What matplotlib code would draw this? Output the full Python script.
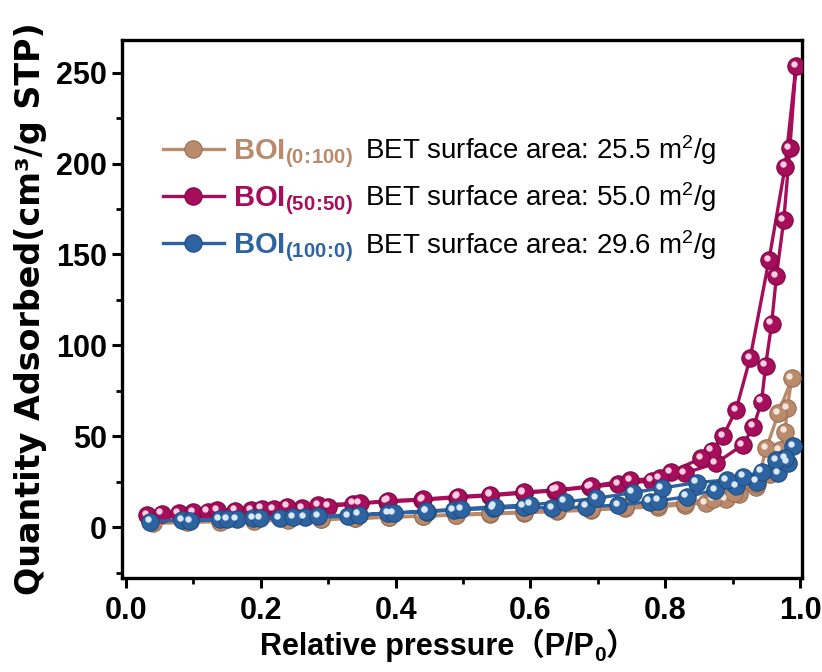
import matplotlib
matplotlib.use('Agg')
import matplotlib.pyplot as plt
import matplotlib.transforms as mtransforms
import numpy as np

# ---------------- data ----------------
# BOI(0:100)
brown_ads_p = [0.040, 0.090, 0.140, 0.190, 0.240, 0.290, 0.340, 0.390, 0.440, 0.490, 0.540, 0.590,
               0.640, 0.690, 0.740, 0.790, 0.830, 0.860, 0.890, 0.910, 0.935, 0.955, 0.970, 0.978, 0.981, 0.988]
brown_ads_v = [2.0, 2.6, 3.0, 3.4, 3.8, 4.2, 4.8, 5.4, 6.0, 6.6, 7.2, 7.9,
               8.6, 9.4, 10.3, 11.3, 12.3, 13.3, 15.5, 18.0, 22.0, 29.0, 42.4, 52.5, 65.4, 81.9]
brown_des_p = [0.968, 0.950, 0.936, 0.902, 0.871, 0.830, 0.790, 0.740, 0.690, 0.640, 0.590, 0.540,
               0.490, 0.440, 0.390, 0.340, 0.290]
brown_des_v = [62.6, 43.3, 23.5, 18.7, 15.5, 13.5, 12.3, 11.0, 10.0, 9.2, 8.4, 7.6,
               6.9, 6.2, 5.6, 5.0, 4.5]

# BOI(50:50)
mag_ads_p = [0.031, 0.053, 0.078, 0.100, 0.121, 0.162, 0.186, 0.219, 0.261, 0.300, 0.337, 0.387,
             0.439, 0.491, 0.540, 0.590, 0.636, 0.688, 0.730, 0.780, 0.829, 0.875, 0.915, 0.931,
             0.943, 0.949, 0.958, 0.965, 0.976, 0.985, 0.994]
mag_ads_v = [6.6, 7.3, 7.5, 8.2, 8.5, 9.0, 9.4, 9.8, 10.3, 11.2, 12.8, 13.9,
             14.9, 16.2, 17.3, 18.7, 20.0, 22.0, 23.6, 25.5, 29.7, 35.1, 45.2, 55.2,
             69.0, 88.8, 112.0, 138.0, 169.0, 208.6, 253.5]
mag_des_p = [0.978, 0.954, 0.926, 0.905, 0.886, 0.869, 0.853, 0.808, 0.792, 0.748, 0.690, 0.640,
             0.590, 0.540, 0.493, 0.441, 0.389, 0.347, 0.285, 0.239, 0.201, 0.135]
mag_des_v = [198.4, 147.0, 92.9, 64.4, 50.1, 42.0, 37.8, 30.2, 26.8, 25.9, 22.6, 20.5,
             19.3, 17.8, 16.8, 15.4, 14.5, 13.2, 12.1, 11.2, 10.2, 9.3]

# BOI(100:0)
blue_ads_p = [0.036, 0.083, 0.139, 0.164, 0.189, 0.228, 0.265, 0.330, 0.389, 0.446, 0.486, 0.545,
              0.590, 0.632, 0.683, 0.730, 0.777, 0.790, 0.832, 0.874, 0.905, 0.936, 0.968, 0.982, 0.990]
blue_ads_v = [2.9, 3.9, 4.2, 4.2, 4.8, 4.8, 5.3, 6.0, 7.7, 8.4, 9.4, 10.3,
              11.2, 10.3, 11.2, 12.1, 13.9, 14.5, 16.7, 20.4, 22.5, 25.0, 29.7, 35.5, 44.5]
blue_des_p = [0.978, 0.965, 0.943, 0.916, 0.891, 0.847, 0.795, 0.752, 0.698, 0.651, 0.600, 0.547,
              0.497, 0.445, 0.397, 0.345, 0.285, 0.248, 0.199, 0.150, 0.095]
blue_des_v = [38.0, 36.9, 30.5, 27.7, 25.9, 24.5, 21.5, 19.0, 15.8, 13.9, 12.3, 11.2,
              10.0, 8.8, 7.8, 6.8, 6.0, 5.3, 5.0, 4.3, 3.3]

labels = [r'$\mathbf{BOI}_{\mathbf{(0\!:\!100)}}$', r'$\mathbf{BOI}_{\mathbf{(50\!:\!50)}}$',
          r'$\mathbf{BOI}_{\mathbf{(100\!:\!0)}}$']
bet_texts = [r'BET surface area: 25.5 m$^{2}$/g', r'BET surface area: 55.0 m$^{2}$/g',
             r'BET surface area: 29.6 m$^{2}$/g']
xticks = [0.0, 0.2, 0.4, 0.6, 0.8, 1.0]
yticks = [0, 50, 100, 150, 200, 250]
xlabel_parts = ['Relative pressure\uff08P/P', '0', '\uff09']
ylabel_text = 'Quantity Adsorbed(cm\u00b3/g STP)'

# ---------------- style ----------------
colors = ['#B98A6B', '#A60D5B', '#2D63A0']
edges = ['#9A6E52', '#7E0744', '#1F4C80']
lights = ['#F3E6DC', '#F7CFE1', '#D8E8F7']

plt.rcParams['font.family'] = ['Liberation Sans', 'DejaVu Sans']
plt.rcParams['mathtext.fontset'] = 'custom'
plt.rcParams['mathtext.rm'] = 'Liberation Sans'
plt.rcParams['mathtext.bf'] = 'Liberation Sans:bold'
plt.rcParams['mathtext.it'] = 'Liberation Sans:italic'

fig = plt.figure(figsize=(8.22, 6.72), dpi=100)
ax = fig.add_axes([122 / 822, 1 - 578 / 672, (802 - 122) / 822, (578 - 40) / 672])

offset = mtransforms.ScaledTranslation(-2.4 / 100, 2.4 / 100, fig.dpi_scale_trans)

series = [
    (brown_ads_p + brown_des_p, brown_ads_v + brown_des_v),
    (mag_ads_p + mag_des_p, mag_ads_v + mag_des_v),
    (blue_ads_p + blue_des_p, blue_ads_v + blue_des_v),
]

handles = []
for i, (p, v) in enumerate(series):
    base, = ax.plot(p, v, '-o', color=colors[i], lw=2.4, ms=12.5, mfc=colors[i],
                    mec=edges[i], mew=0.8, zorder=3 + i)
    ax.plot(p, v, 'o', ls='none', color=lights[i], ms=4.6, mew=0,
            transform=ax.transData + offset, zorder=3 + i)
    handles.append(base)

ax.set_xlim(-0.006, 1.003)
ax.set_ylim(-28, 268)
ax.set_xticks(xticks)
ax.set_yticks(yticks)
ax.set_xticklabels([f'{t:.1f}' for t in xticks])
ax.set_yticklabels([str(t) for t in yticks])
ax.set_xticks(np.arange(0.1, 1.0, 0.2), minor=True)
ax.set_yticks(np.arange(-25, 270, 50), minor=True)

for sp in ax.spines.values():
    sp.set_linewidth(2.4)
ax.tick_params(which='major', direction='out', length=7, width=2.2)
ax.tick_params(which='minor', direction='out', length=4, width=2.0)
for lab in ax.get_xticklabels() + ax.get_yticklabels():
    lab.set_fontfamily('Liberation Sans')
    lab.set_fontweight('bold')
    lab.set_fontsize(22)
ax.tick_params(axis='x', pad=6)
ax.tick_params(axis='y', pad=4)

ax.set_ylabel(ylabel_text, fontsize=24, fontweight='bold', family=['DejaVu Sans'], labelpad=6)

leg = ax.legend(handles, labels, loc='upper left', bbox_to_anchor=(0.06, 0.82), frameon=False,
                fontsize=21, handlelength=2.1, handletextpad=0.3, labelspacing=0.5,
                borderpad=0, borderaxespad=0)
for t, c in zip(leg.get_texts(), colors):
    t.set_color(c)

fig.canvas.draw()
renderer = fig.canvas.get_renderer()
inv = ax.transAxes.inverted()
for t, s in zip(leg.get_texts(), bet_texts):
    bb = t.get_window_extent(renderer)
    cap = 0.716 * 21 * 100 / 72
    xa, ya = inv.transform((0, bb.y1 - cap - 1))
    ax.text(0.357, ya, s, transform=ax.transAxes, fontsize=20, va='baseline', ha='left',
            color='black')

# x label built from pieces (full-width brackets + subscript 0)
xfam = ['Liberation Sans', 'Noto Sans CJK SC', 'DejaVu Sans']
base_y_px = 672 - 655
pieces = []
sizes = [22, 15, 22]
dys = [0, -6, 0]
widths = []
for txt, fs in zip(xlabel_parts, sizes):
    tt = fig.text(0, 0, txt, fontsize=fs, fontweight='bold', family=xfam, ha='left', va='baseline')
    widths.append(tt.get_window_extent(renderer).width)
    pieces.append(tt)
total = sum(widths)
x_center_px = 448
x_px = x_center_px - total / 2
for tt, w, dy in zip(pieces, widths, dys):
    tt.set_position((x_px / 822, (base_y_px + dy) / 672))
    x_px += w

fig.savefig('out.png', dpi=100)
